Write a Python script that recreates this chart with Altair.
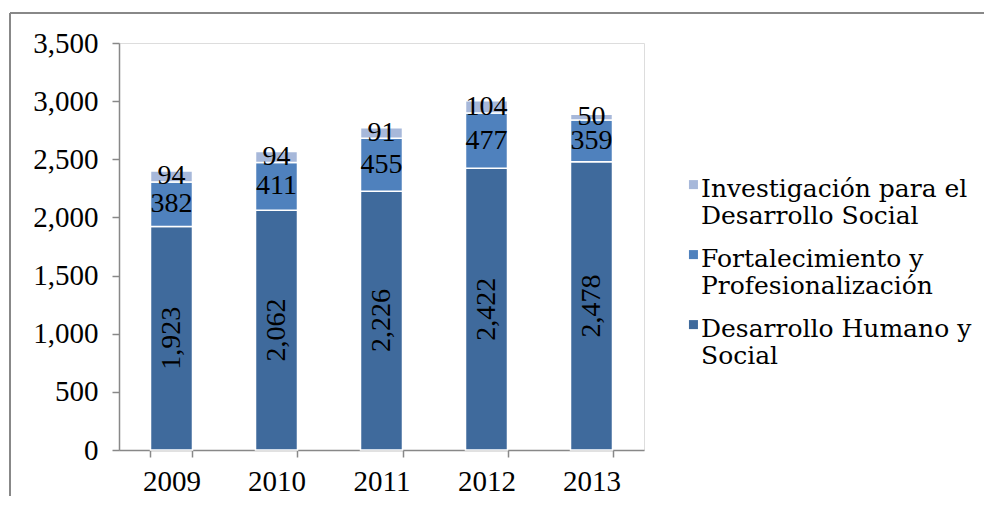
import altair as alt
import pandas as pd

years = ["2009", "2010", "2011", "2012", "2013"]
series = ["Desarrollo Humano y Social", "Fortalecimiento y Profesionalización",
          "Investigación para el Desarrollo Social"]
desarrollo = [1923, 2062, 2226, 2422, 2478]
fortalecimiento = [382, 411, 455, 477, 359]
investigacion = [94, 94, 91, 104, 50]
colors = ["#3F6A9C", "#4F81BD", "#A7B8DA"]
legend_lines = {
    "Investigación para el Desarrollo Social": ["Investigación para el", "Desarrollo Social"],
    "Fortalecimiento y Profesionalización": ["Fortalecimiento y", "Profesionalización"],
    "Desarrollo Humano y Social": ["Desarrollo Humano y", "Social"],
}
y_ticks = [0, 500, 1000, 1500, 2000, 2500, 3000, 3500]

rows = []
for vals, (k, s) in zip([desarrollo, fortalecimiento, investigacion], enumerate(series)):
    for yr, v in zip(years, vals):
        rows.append({"year": yr, "series": s, "value": v, "order": k})
df = pd.DataFrame(rows)

W, H = 525, 407
FONT = "Liberation Serif"
LFONT = "DejaVu Serif"

label_expr = " : ".join(
    f"datum.label == '{k}' ? ['{v[0]}', '{v[1]}']" for k, v in legend_lines.items()
) + " : datum.label"

base = alt.Chart(df).transform_stack(
    stack="value", groupby=["year"], as_=["y0", "y1"],
    sort=[alt.SortField("order", order="ascending")]
).transform_calculate(mid="(datum.y0 + datum.y1) / 2")

xenc = alt.X("year:N", sort=years, title=None,
             scale=alt.Scale(paddingInner=0.6, paddingOuter=0.3),
             axis=alt.Axis(labelAngle=0, labelFont=FONT, labelFontSize=29, labelColor="#000",
                           domainColor="#888", tickColor="#888", tickSize=7, tickBand="extent",
                           labelPadding=10, domainWidth=1.5, tickWidth=1.5))

yscale = alt.Scale(domain=[0, 3500], nice=False)

bars = base.mark_bar(stroke="white", strokeWidth=1.5).encode(
    x=xenc,
    y=alt.Y("y0:Q", scale=yscale, title=None,
            axis=alt.Axis(values=y_ticks, format=",.0f", grid=False, labelFont=FONT,
                          labelFontSize=29, labelColor="#000", domainColor="#888",
                          tickColor="#888", tickSize=7, labelPadding=14,
                          domainWidth=1.5, tickWidth=1.5)),
    y2="y1:Q",
    color=alt.Color("series:N", sort=series,
                    scale=alt.Scale(domain=series, range=colors),
                    legend=alt.Legend(title=None, orient="none", legendX=557, legendY=121,
                                      direction="vertical",
                                      symbolType="M0.1,0.8H2.1V2.8H0.1Z",
                                      symbolSize=81, symbolStrokeWidth=0,
                                      labelFont=LFONT, labelFontSize=25, labelColor="#000",
                                      labelLimit=500, labelOffset=0, rowPadding=5,
                                      labelExpr=label_expr, labelBaseline="top",
                                      values=series[::-1])),
    order=alt.Order("order:Q"),
)

txt_rot = base.transform_filter(alt.datum.order == 0).mark_text(
    angle=270, font=FONT, fontSize=28, color="#000", baseline="middle", align="center"
).encode(x=alt.X("year:N", sort=years), y=alt.Y("mid:Q", scale=yscale),
         text=alt.Text("value:Q", format=","))

txt_h = base.transform_filter(alt.datum.order > 0).mark_text(
    font=FONT, fontSize=28, color="#000", baseline="middle", align="center"
).encode(x=alt.X("year:N", sort=years), y=alt.Y("mid:Q", scale=yscale),
         text=alt.Text("value:Q", format=","))

one = pd.DataFrame({"a": [0]})
frame_top = alt.Chart(one).mark_rule(color="#888", strokeWidth=2).encode(
    x=alt.value(-109), x2=alt.value(880), y=alt.value(-30))
frame_left = alt.Chart(one).mark_rule(color="#888", strokeWidth=2).encode(
    x=alt.value(-109), y=alt.value(-30), y2=alt.value(H + 60))

chart = alt.layer(frame_top, frame_left, bars, txt_rot, txt_h).properties(
    width=W, height=H,
    autosize=alt.AutoSizeParams(type="none"),
    padding={"left": 111, "top": 35, "right": 340, "bottom": 46},
).configure_view(stroke=None).configure(background="white")

chart.save("out.html", embed_options={"renderer": "svg", "actions": False})
